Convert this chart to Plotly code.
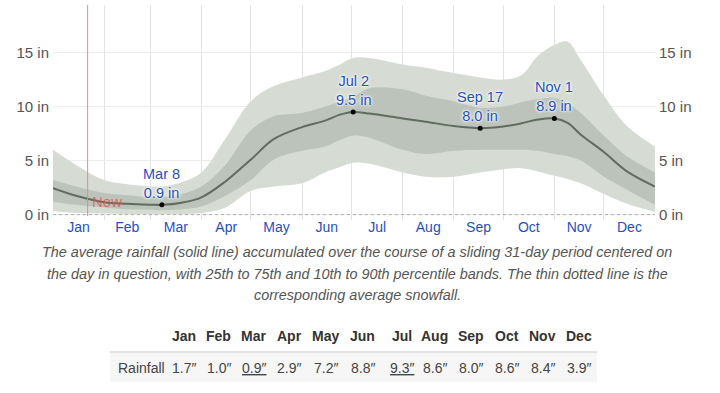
import plotly.graph_objects as go

# ---------------- data ----------------
DATES = ["2023-01-01", "2023-01-15", "2023-02-01", "2023-02-15", "2023-03-01", "2023-03-08",
         "2023-03-20", "2023-04-01", "2023-04-15", "2023-05-01", "2023-05-15", "2023-06-01",
         "2023-06-15", "2023-06-24", "2023-07-02", "2023-07-12", "2023-08-01", "2023-08-15",
         "2023-09-01", "2023-09-17", "2023-10-01", "2023-10-12", "2023-10-22", "2023-11-01",
         "2023-11-09", "2023-11-17", "2023-12-01", "2023-12-15", "2023-12-31T23:00"]
MEAN = [2.45, 1.75, 1.15, 1.0, 0.92, 0.9, 1.1, 1.6, 3.0, 5.1, 7.0, 8.1, 8.7, 9.25, 9.5, 9.35,
        8.9, 8.6, 8.2, 8.0, 8.15, 8.45, 8.8, 8.9, 8.5, 7.4, 5.8, 4.0, 2.6]
P25 = [1.2, 0.9, 0.65, 0.5, 0.45, 0.4, 0.5, 0.75, 1.7, 3.2, 5.1, 5.9, 6.3, 6.9, 7.3, 7.1, 6.0,
       5.6, 5.9, 6.0, 6.0, 6.0, 5.9, 5.6, 5.4, 5.0, 3.5, 2.3, 0.9]
P75 = [3.2, 2.6, 2.0, 1.8, 1.6, 1.6, 1.9, 2.6, 4.5, 7.8, 9.1, 9.4, 10.0, 10.5, 10.9, 11.7, 11.6,
       11.0, 10.5, 9.9, 10.0, 10.4, 10.7, 10.8, 10.3, 9.4, 7.3, 5.4, 3.9]
P10 = [0.3, 0.15, 0.1, 0.05, 0.05, 0.05, 0.05, 0.15, 0.6, 2.2, 2.6, 2.9, 3.9, 4.4, 4.8, 4.7,
       3.9, 3.5, 3.5, 3.9, 4.2, 4.3, 4.0, 3.6, 3.3, 2.9, 1.9, 1.0, 0.25]
P90 = [6.0, 4.6, 3.2, 2.8, 2.6, 2.6, 3.0, 3.9, 6.9, 10.5, 11.9, 12.7, 13.3, 13.9, 14.5, 14.5,
       13.9, 13.6, 13.1, 12.7, 12.5, 12.9, 14.7, 15.7, 16.0, 14.3, 11.0, 8.2, 6.3]

EXTREMA_IDX = [5, 14, 19, 23]
EXTREMA_LABELS = ["Mar 8", "Jul 2", "Sep 17", "Nov 1"]

NOW_DATE = "2023-01-22"

Y_TICKS = [0, 5, 10, 15]
Y_TICK_TEXT = ["0 in", "5 in", "10 in", "15 in"]

MONTHS = ["Jan", "Feb", "Mar", "Apr", "May", "Jun", "Jul", "Aug", "Sep", "Oct", "Nov", "Dec"]
MONTH_RAIN = [1.7, 1.0, 0.9, 2.9, 7.2, 8.8, 9.3, 8.6, 8.0, 8.6, 8.4, 3.9]

CAPTION = ["The average rainfall (solid line) accumulated over the course of a sliding 31-day period centered on",
           "the day in question, with 25th to 75th and 10th to 90th percentile bands. The thin dotted line is the",
           "corresponding average snowfall."]

# ---------------- layout helpers ----------------
W, H = 720, 393
L, R, T, B = 53, 65, 5, 173
PW, PH = W - L - R, H - T - B


def px_x(px):
    return (px - L) / PW


def px_y(py):
    return (H - B - py) / PH


FONT = "Liberation Sans, Arial, sans-serif"
BLUE = "#1f50c2"
LIGHT = "#d6dbd4"
DARK = "#bcc3ba"
LINE = "#5f6d5d"

fig = go.Figure()

fig.add_trace(go.Scatter(x=DATES, y=P10, mode="lines", line=dict(width=0, shape="spline"),
                         hoverinfo="skip", showlegend=False))
fig.add_trace(go.Scatter(x=DATES, y=P90, mode="lines", line=dict(width=0, shape="spline"),
                         fill="tonexty", fillcolor=LIGHT, hoverinfo="skip", showlegend=False))
fig.add_trace(go.Scatter(x=DATES, y=P25, mode="lines", line=dict(width=0, shape="spline"),
                         hoverinfo="skip", showlegend=False))
fig.add_trace(go.Scatter(x=DATES, y=P75, mode="lines", line=dict(width=0, shape="spline"),
                         fill="tonexty", fillcolor=DARK, hoverinfo="skip", showlegend=False))
fig.add_trace(go.Scatter(x=DATES, y=MEAN, mode="lines", line=dict(width=2, color=LINE, shape="spline"),
                         hoverinfo="skip", showlegend=False))

ex_x = [DATES[i] for i in EXTREMA_IDX]
ex_y = [MEAN[i] for i in EXTREMA_IDX]
fig.add_trace(go.Scatter(x=ex_x, y=ex_y, mode="markers", marker=dict(color="black", size=5),
                         hoverinfo="skip", showlegend=False))
# invisible trace for the right axis
fig.add_trace(go.Scatter(x=[DATES[0]], y=[0], yaxis="y2", mode="markers", marker=dict(opacity=0),
                         hoverinfo="skip", showlegend=False))

annotations = []
for xd, yv, lab in zip(ex_x, ex_y, EXTREMA_LABELS):
    annotations.append(dict(x=xd, y=yv, xref="x", yref="y", text=f"{lab}<br>{yv:.1f} in",
                            showarrow=False, yanchor="bottom", yshift=2,
                            font=dict(family=FONT, size=14.5, color=BLUE,
                                      shadow="0 0 2px white, 0 0 3px white, 0 0 4px white")))

annotations.append(dict(x=NOW_DATE, y=1.25, xref="x", yref="y", text="Now", showarrow=False,
                        xanchor="left", yanchor="middle", xshift=2,
                        font=dict(family=FONT, size=15, color="rgba(226,80,80,0.75)")))

for i, line in enumerate(CAPTION):
    annotations.append(dict(x=px_x(357), y=px_y([252, 273.5, 295][i]), xref="paper", yref="paper",
                            text=line, showarrow=False, xanchor="center", yanchor="middle",
                            font=dict(family=FONT, size=14.4, color="#555", style="italic")))

COL_X = [184, 218.5, 253.7, 289, 325.5, 362.5, 402, 434.5, 470.7, 507, 542.5, 578.8]
for i, m in enumerate(MONTHS):
    annotations.append(dict(x=px_x(COL_X[i]), y=px_y(336), xref="paper", yref="paper",
                            text=f"<b>{m}</b>", showarrow=False, xanchor="center", yanchor="middle",
                            font=dict(family=FONT, size=14, color="#333")))
    v = MONTH_RAIN[i]
    under = v in (min(MONTH_RAIN), max(MONTH_RAIN))
    annotations.append(dict(x=px_x(COL_X[i]), y=px_y(368), xref="paper", yref="paper",
                            text=f"{v:.1f}\u2033", showarrow=False, xanchor="center", yanchor="middle",
                            font=dict(family=FONT, size=14, color="#444",
                                      lineposition="under" if under else "none")))
annotations.append(dict(x=px_x(116), y=px_y(368), xref="paper", yref="paper", text="Rainfall",
                        showarrow=False, xanchor="left", yanchor="middle",
                        font=dict(family=FONT, size=14, color="#444")))

shapes = [
    dict(type="rect", xref="paper", yref="paper", x0=px_x(110), x1=px_x(597), y0=px_y(352), y1=px_y(382),
         fillcolor="#f6f6f6", line=dict(width=0), layer="below"),
    dict(type="line", xref="paper", yref="paper", x0=px_x(110), x1=px_x(597), y0=px_y(352), y1=px_y(352),
         line=dict(color="#e2e2e2", width=2)),
    dict(type="line", xref="paper", yref="y", x0=0, x1=1, y0=0, y1=0,
         line=dict(color="#aaa", width=1, dash="dot"), layer="above"),
    dict(type="line", xref="x", yref="paper", x0=NOW_DATE, x1=NOW_DATE, y0=px_y(216), y1=1,
         line=dict(color="#e58a8a", width=1), layer="above"),
]

fig.update_layout(
    width=W, height=H, margin=dict(l=L, r=R, t=T, b=B, pad=0),
    paper_bgcolor="white", plot_bgcolor="white",
    font=dict(family=FONT),
    xaxis=dict(type="date", range=["2023-01-01", "2024-01-01"], dtick="M1", tick0="2023-01-01",
               ticklabelmode="period", tickformat="%b", showgrid=True, gridcolor="#e3e3e3",
               gridwidth=1, zeroline=False, showline=False, ticks="", ticklabelstandoff=-3,
               tickfont=dict(family=FONT, size=14, color=BLUE), fixedrange=True),
    yaxis=dict(range=[-0.5, 19.4], tickvals=Y_TICKS, ticktext=Y_TICK_TEXT, showgrid=True,
               gridcolor="#ececec", zeroline=False, showline=False, ticks="", ticklabelstandoff=3,
               tickfont=dict(family=FONT, size=15, color="#555")),
    yaxis2=dict(overlaying="y", side="right", matches="y", tickvals=Y_TICKS, ticktext=Y_TICK_TEXT,
                showgrid=False, zeroline=False, showline=False, ticks="", ticklabelstandoff=3,
                tickfont=dict(family=FONT, size=15, color="#555")),
    annotations=annotations, shapes=shapes, showlegend=False,
)

fig.write_html("out.html")
